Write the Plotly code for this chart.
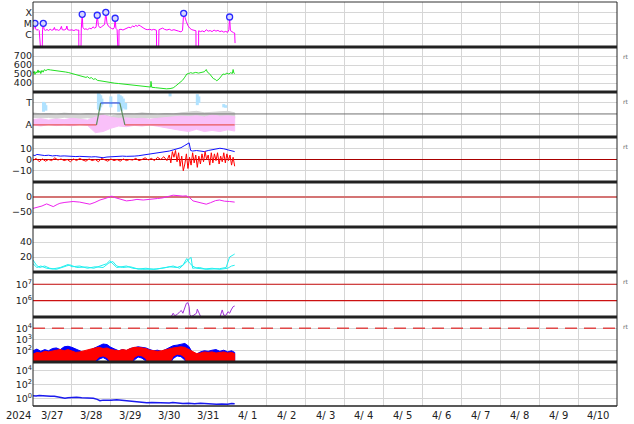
import plotly.graph_objects as go

# ---------------- data (time in days since 2024-03-27 00:00) ----------------
day_ticks = list(range(16))
date_labels = ['3/27', '3/28', '3/29', '3/30', '3/31', '4/ 1', '4/ 2', '4/ 3',
               '4/ 4', '4/ 5', '4/ 6', '4/ 7', '4/ 8', '4/ 9', '4/10']
year_label = '2024'

# panel 1: X-ray flux
xray_t = [0.00, 0.02, 0.05, 0.07, 0.10, 0.13, 0.16, 0.18, 0.23, 0.245, 0.264, 0.285, 0.32, 0.36,
          0.40, 0.44, 0.48, 0.52, 0.55, 0.57, 0.62, 0.66, 0.70, 0.73, 0.75, 0.80, 0.85, 0.87, 0.89,
          0.94, 1.00, 1.05, 1.10, 1.15, 1.175, 1.18, 1.225, 1.24, 1.264, 1.28, 1.32, 1.36, 1.40,
          1.45, 1.50, 1.54, 1.58, 1.62, 1.65, 1.68, 1.72, 1.76, 1.80, 1.84, 1.87, 1.90, 1.94, 1.98,
          2.02, 2.06, 2.09, 2.11, 2.13, 2.16, 2.18, 2.20, 2.21, 2.26, 2.31, 2.36, 2.41, 2.46, 2.51,
          2.56, 2.60, 2.64, 2.68, 2.72, 2.76, 2.80, 2.85, 2.90, 2.95, 3.00, 3.05, 3.10, 3.15, 3.17,
          3.18, 3.22, 3.235, 3.28, 3.33, 3.38, 3.44, 3.50, 3.56, 3.62, 3.68, 3.74, 3.80, 3.84, 3.87,
          3.90, 3.94, 3.98, 4.03, 4.08, 4.13, 4.185, 4.19, 4.25, 4.255, 4.30, 4.35, 4.40, 4.45,
          4.50, 4.55, 4.60, 4.65, 4.70, 4.75, 4.80, 4.85, 4.90, 4.95, 5.00, 5.03, 5.05, 5.07, 5.11,
          5.15, 5.18, 5.19]
xray_flux = [3.0e-6, 4.0e-6, 1.15e-5, 3.5e-6, 2.6e-6, 3.2e-6, 2.5e-6, 1e-9, 1e-9, 3.2e-6, 1.15e-5,
             3.0e-6, 2.6e-6, 3.1e-6, 2.5e-6, 3.3e-6, 2.7e-6, 2.9e-6, 4.8e-6, 2.8e-6, 3.0e-6, 2.6e-6,
             3.2e-6, 6.0e-6, 3.0e-6, 2.8e-6, 3.4e-6, 6.5e-6, 3.0e-6, 2.7e-6, 2.9e-6, 2.5e-6, 3.0e-6,
             2.7e-6, 2.8e-6, 1e-9, 1e-9, 3.5e-6, 7.6e-5, 5.0e-6, 3.2e-6, 3.6e-6, 3.0e-6, 4.0e-6,
             3.6e-6, 5.5e-6, 4.2e-6, 5.0e-6, 6.2e-5, 7.0e-6, 4.5e-6, 5.5e-6, 7.5e-6, 9.0e-6, 1.15e-4,
             1.2e-5, 6.0e-6, 4.5e-6, 3.8e-6, 3.4e-6, 5.0e-6, 3.3e-5, 4.0e-6, 3.0e-6, 1e-9, 1e-9,
             3.0e-6, 3.3e-6, 2.8e-6, 3.5e-6, 4.2e-6, 5.0e-6, 4.5e-6, 6.5e-6, 5.5e-6, 7.5e-6, 6.0e-6,
             8.0e-6, 6.5e-6, 5.0e-6, 4.0e-6, 3.2e-6, 3.0e-6, 3.3e-6, 2.8e-6, 3.2e-6, 2.6e-6, 2.7e-6,
             1e-9, 1e-9, 3.0e-6, 3.6e-6, 4.2e-6, 3.2e-6, 2.8e-6, 3.3e-6, 2.6e-6, 3.0e-6, 2.4e-6,
             2.2e-6, 1.9e-6, 2.5e-6, 9.3e-5, 3.5e-5, 1.6e-5, 7.0e-6, 4.0e-6, 3.0e-6, 2.6e-6, 2.4e-6,
             1e-9, 1e-9, 2.4e-6, 2.0e-6, 2.3e-6, 1.9e-6, 3.0e-6, 2.2e-6, 2.5e-6, 2.0e-6, 2.8e-6,
             2.2e-6, 2.6e-6, 2.0e-6, 2.3e-6, 1.8e-6, 2.1e-6, 1.7e-6, 3.0e-6, 4.3e-5, 2.5e-6, 1.8e-6,
             1.6e-6, 1.5e-6, 1.8e-7]
flare_t = [0.05, 0.264, 1.264, 1.65, 1.87, 2.11, 3.87, 5.05]
flare_flux = [1.15e-5, 1.15e-5, 7.6e-5, 6.2e-5, 1.15e-4, 3.3e-5, 9.3e-5, 4.3e-5]
xray_tickvals = [1e-4, 1e-5, 1e-6]
xray_ticktext = ['X', 'M', 'C']

# panel 2: solar wind speed
speed_t = [0.00, 0.03, 0.05, 0.08, 0.10, 0.13, 0.15, 0.18, 0.20, 0.23, 0.26, 0.29, 0.33, 0.38, 0.45,
           0.52, 0.60, 0.68, 0.76, 0.84, 0.92, 1.00, 1.08, 1.16, 1.24, 1.30, 1.36, 1.40, 1.45, 1.50,
           1.55, 1.60, 1.66, 1.72, 1.80, 1.90, 2.00, 2.10, 2.20, 2.35, 2.50, 2.65, 2.80, 2.95, 3.02,
           3.03, 3.05, 3.15, 3.30, 3.43, 3.52, 3.60, 3.66, 3.72, 3.78, 3.84, 3.90, 3.95, 4.00, 4.05,
           4.10, 4.18, 4.25, 4.32, 4.40, 4.45, 4.48, 4.53, 4.58, 4.63, 4.68, 4.72, 4.78, 4.83, 4.88,
           4.93, 4.98, 5.03, 5.08, 5.12, 5.14, 5.16, 5.18]
speed_v = [505, 530, 495, 525, 510, 545, 515, 535, 505, 540, 520, 548, 538, 550, 545, 542, 540, 537,
           530, 522, 515, 505, 498, 488, 482, 476, 462, 470, 452, 460, 440, 448, 428, 425, 418, 408,
           402, 398, 394, 388, 380, 372, 365, 358, 355, 418, 352, 348, 340, 335, 338, 346, 365, 385,
           405, 430, 465, 500, 505, 515, 508, 518, 510, 520, 525, 550, 520, 505, 475, 450, 440, 425,
           445, 470, 500, 495, 510, 500, 515, 505, 550, 510, 505]
speed_tickvals = [400, 500, 600, 700]

# panel 3: IMF sector (A = away = 0, T = toward = 1)
sector_ticktext = ['A', 'T']
band_t = [0, 0.2, 0.4, 0.6, 0.8, 1.0, 1.2, 1.4, 1.6, 1.8, 2.0, 2.2, 2.4, 2.6, 2.8, 3.0, 3.2, 3.4,
          3.6, 3.8, 4.0, 4.2, 4.4, 4.6, 4.8, 5.0, 5.18]
gray_hi = [0.55, 0.50, 0.52, 0.48, 0.54, 0.50, 0.47, 0.52, 0.50, 0.45, 0.40, 0.48, 0.52, 0.50, 0.55,
           0.50, 0.48, 0.52, 0.50, 0.55, 0.60, 0.62, 0.55, 0.58, 0.60, 0.62, 0.55]
gray_lo = [0.35, 0.32, 0.34, 0.30, 0.35, 0.32, 0.30, 0.33, 0.28, 0.25, 0.30, 0.30, 0.34, 0.32, 0.30,
           0.33, 0.30, 0.28, 0.25, 0.30, 0.28, 0.30, 0.25, 0.28, 0.30, 0.25, 0.30]
pink_hi = [0.25, 0.28, 0.22, 0.27, 0.24, 0.30, 0.26, 0.22, 0.35, 0.45, 0.35, 0.30, 0.32, 0.28, 0.30,
           0.26, 0.30, 0.33, 0.36, 0.40, 0.38, 0.42, 0.36, 0.45, 0.40, 0.42, 0.38]
pink_lo = [0.00, -0.05, 0.02, -0.03, 0.00, -0.04, 0.02, -0.02, -0.35, -0.30, -0.15, -0.05, -0.08,
           -0.02, -0.05, 0.00, -0.06, -0.10, -0.18, -0.25, -0.30, -0.20, -0.30, -0.25, -0.30, -0.22,
           -0.28]
blue_spot_t = [0.27, 0.30, 0.33, 1.68, 1.71, 1.74, 1.77, 2.00, 2.20, 2.24, 2.28, 2.32, 2.38, 3.52,
               4.22, 4.26, 4.90, 4.95]
blue_spot_lo = [0.60, 0.70, 0.65, 0.70, 0.65, 0.80, 0.90, 0.80, 0.60, 0.70, 0.65, 0.75, 0.70, 1.30,
                0.90, 1.00, 0.80, 0.78]
blue_spot_hi = [1.05, 1.00, 0.90, 1.45, 1.40, 1.35, 1.20, 1.30, 1.40, 1.35, 1.30, 1.20, 1.00, 1.45,
                1.40, 1.30, 0.95, 0.90]
sector_away_t = [0, 1.63, None, 2.36, 5.18]
sector_away_v = [0, 0, None, 0, 0]
sector_edge_t = [1.63, 1.74, None, 2.23, 2.36]
sector_edge_v = [0, 1, None, 1, 0]
sector_toward_t = [1.74, 2.23]
sector_toward_v = [1, 1]
sector_mid = 0.5

# panel 4: IMF Bt / Bz
bt_t = [0.0, 0.05, 0.1, 0.2, 0.3, 0.4, 0.5, 0.6, 0.7, 0.8, 0.9, 1.0, 1.1, 1.2, 1.3, 1.4, 1.5, 1.6,
        1.7, 1.8, 1.9, 2.0, 2.1, 2.2, 2.3, 2.4, 2.5, 2.6, 2.7, 2.8, 2.9, 3.0, 3.1, 3.2, 3.3, 3.4,
        3.45, 3.5, 3.6, 3.7, 3.8, 3.9, 3.96, 4.01, 4.05, 4.1, 4.2, 4.3, 4.4, 4.5, 4.6, 4.7, 4.8,
        4.9, 5.0, 5.1, 5.18]
bt_v = [4, 3.5, 4.5, 4, 3.5, 3.8, 3.2, 3.5, 3, 3.2, 2.8, 3, 2.6, 2.8, 2.5, 2.7, 2.3, 2.5, 1.8,
        1.6, 2.2, 2.5, 2.3, 2.8, 3.0, 2.8, 3.2, 3.0, 3.3, 3.8, 4.2, 4.5, 4.8, 5.5, 6, 6.5, 7, 7.5,
        8.5, 9.5, 10.5, 12.5, 13.5, 14.8, 8, 7.5, 8, 7.5, 7, 8, 8.5, 9.5, 10, 9.5, 8.5, 7.5, 7]
bz_t = [0.0, 0.08, 0.16, 0.24, 0.32, 0.4, 0.48, 0.56, 0.64, 0.72, 0.8, 0.88, 0.96, 1.04, 1.12,
        1.2, 1.28, 1.36, 1.44, 1.52, 1.6, 1.68, 1.76, 1.84, 1.92, 2.0, 2.08, 2.16, 2.24, 2.32,
        2.4, 2.48, 2.56, 2.64, 2.72, 2.8, 2.88, 2.96, 3.04, 3.12, 3.2, 3.28, 3.36, 3.44, 3.5,
        3.54, 3.58, 3.62, 3.66, 3.7, 3.74, 3.78, 3.82, 3.86, 3.9, 3.94, 3.98, 4.02, 4.06, 4.1,
        4.14, 4.18, 4.22, 4.26, 4.3, 4.34, 4.38, 4.42, 4.46, 4.5, 4.54, 4.58, 4.62, 4.66, 4.7,
        4.74, 4.78, 4.82, 4.86, 4.9, 4.94, 4.98, 5.02, 5.06, 5.1, 5.14, 5.18]
bz_v = [-1, 1, -2, 0.5, -1.5, 0, -1, 1.5, -0.5, 0.5, -1, 0, -2, 0.5, -1, 1, -0.5, -1.5, 0.5, -1,
        0, -2, 1, -0.5, -1.5, 0.5, -1, 0, -1.5, 0.5, -1, 0, -0.5, 1, -1, 0, 1.5, -0.5, 1, -1, 2,
        0, 2.5, -1, 4, -3, 7, 2, 8, -2, 6, -6, 3, -10, -4, 5, -8, 2, -5, 6, -3, 4, -7, 3, -4, 5,
        -2, 7, 0, 4, -5, 6, -3, 5, -1, 6, -4, 3, -2, 6, -3, 5, -1, 4, -5, 2, -6]
b_tickvals = [-10, 0, 10]
b_ticktext = ['\u221210', '0', '10']

# panel 5: Dst
dst_t = [0, 0.1, 0.23, 0.35, 0.44, 0.52, 0.62, 0.69, 0.82, 1.03, 1.2, 1.33, 1.46, 1.59, 1.72,
         1.85, 1.97, 2.03, 2.08, 2.15, 2.23, 2.32, 2.4, 2.54, 2.67, 2.83, 2.95, 3.08, 3.2, 3.33,
         3.43, 3.51, 3.6, 3.72, 3.85, 3.94, 4.03, 4.11, 4.21, 4.33, 4.45, 4.56, 4.69, 4.79, 4.92,
         5.05, 5.14, 5.18]
dst_v = [-38, -35, -30, -23, -27, -32, -25, -21, -18, -15, -17, -21, -24, -18, -10, -5, 1, 3, -1,
         -4, -6, -9, -13, -11, -8, -10, -9, -8, -5, -3, -1, 3, 6, 4, 3, 4, -3, -13, -16, -19, -24,
         -19, -12, -10, -14, -15, -18, -17]
dst_tickvals = [-50, 0]
dst_ticktext = ['\u221250', '0']

# panel 6: two cyan series
cy1_t = [0, 0.09, 0.17, 0.3, 0.43, 0.6, 0.86, 0.95, 1.12, 1.38, 1.56, 1.72, 1.89, 1.97, 2.06, 2.15,
         2.4, 2.56, 2.82, 3.17, 3.43, 3.6, 3.77, 3.98, 4.06, 4.1, 4.28, 4.45, 4.79, 4.96, 5.05,
         5.14, 5.18]
cy1_v = [16, 9, 6, 8, 5, 3.6, 8, 9.5, 6, 6.7, 5, 8, 11, 15, 11, 6, 8, 5, 3.6, 4, 6, 8, 5, 16, 19.5,
         5, 6, 3.6, 4.4, 6, 20, 22.7, 24]
cy2_t = [0, 0.1, 0.2, 0.35, 0.5, 0.7, 0.9, 1.0, 1.2, 1.4, 1.6, 1.8, 1.95, 2.05, 2.15, 2.3, 2.5,
         2.7, 2.9, 3.1, 3.3, 3.5, 3.7, 3.85, 3.95, 4.02, 4.1, 4.2, 4.4, 4.6, 4.8, 5.0, 5.1, 5.18]
cy2_v = [11, 6, 8, 5, 4, 6, 10, 7, 8, 5, 7, 6, 12, 14, 8, 6, 7, 4, 5, 3.5, 5, 7, 6, 9, 18, 12, 8, 5,
         4, 5, 3.6, 5, 8, 9]
cy_tickvals = [20, 40]

# panel 7: energetic electron flux
el_t = [0.0, 0.03, 1.0, 2.0, 3.0, 3.52, 3.56, 3.6, 3.64, 3.7, 3.77, 3.81, 3.85, 3.9, 3.94, 3.98,
        4.01, 4.03, 4.07, 4.11, 4.16, 4.2, 4.22, 4.26, 4.3, 4.34, 4.78, 4.82, 4.86, 4.9, 4.95,
        5.01, 5.05, 5.09, 5.14, 5.18]
el_v = [1.2e5, 7e4, 6e4, 5.5e4, 6e4, 8e4, 1.3e5, 1.7e5, 1.2e5, 1.4e5, 2.1e5, 2.5e5, 1.7e5, 3.4e5,
        6.9e5, 7.4e5, 4.3e5, 1.3e5, 1.1e5, 1.2e5, 1.5e5, 1.7e5, 3.0e5, 1.7e5, 1.2e5, 7e4, 7e4,
        1.7e5, 2.7e5, 1.3e5, 1.25e5, 2.1e5, 1.7e5, 2.7e5, 4.3e5, 4.7e5]
el_levels = [1e6, 1e7]
el_tickvals = [1e6, 1e7]
el_ticktext = ['10<sup>6</sup>', '10<sup>7</sup>']

# panel 8: particle flux, two channels (upper / lower envelopes of dense data)
p8_t = [0, 0.1, 0.2, 0.3, 0.4, 0.5, 0.6, 0.7, 0.8, 0.9, 1.0, 1.1, 1.2, 1.3, 1.4, 1.5, 1.6, 1.7,
        1.8, 1.9, 2.0, 2.1, 2.2, 2.3, 2.4, 2.5, 2.6, 2.7, 2.8, 2.9, 3.0, 3.1, 3.2, 3.3, 3.4, 3.5,
        3.6, 3.7, 3.8, 3.9, 4.0, 4.1, 4.2, 4.3, 4.4, 4.5, 4.6, 4.7, 4.8, 4.9, 5.0, 5.1, 5.18]
p8_blue_hi = [100, 141, 89, 126, 100, 158, 178, 126, 224, 251, 200, 141, 100, 71, 89, 126, 200,
              282, 398, 355, 200, 141, 100, 126, 100, 158, 200, 224, 200, 178, 126, 100, 112, 89,
              126, 200, 282, 316, 355, 447, 251, 63, 50, 79, 100, 89, 112, 126, 89, 112, 79, 100, 71]
p8_red_hi = [50, 71, 63, 89, 79, 100, 112, 126, 100, 126, 89, 71, 79, 100, 126, 141, 178, 200, 158,
             178, 126, 112, 100, 126, 112, 158, 200, 200, 178, 158, 112, 100, 89, 100, 126, 158,
             178, 200, 224, 200, 126, 79, 56, 63, 79, 71, 79, 63, 71, 79, 63, 71, 56]
p8_lo_t = [0, 1.55, 1.6, 1.7, 1.8, 1.9, 2.0, 2.05, 2.45, 2.5, 2.6, 2.7, 2.8, 2.9, 3.0, 3.45, 3.5,
           3.6, 3.7, 3.8, 3.9, 4.0, 5.18]
p8_red_lo = [3, 3, 13, 28, 35, 25, 10, 3, 3, 8, 25, 40, 35, 20, 3, 3, 10, 32, 50, 45, 25, 3, 3]
p8_blue_lo = [3, 3, 8, 18, 25, 16, 6, 3, 3, 5, 15, 28, 22, 12, 3, 3, 6, 20, 35, 30, 15, 3, 3]
p8_level = 1e4
p8_tickvals = [1e2, 1e3, 1e4]
p8_ticktext = ['10<sup>2</sup>', '10<sup>3</sup>', '10<sup>4</sup>']

# panel 9: decaying flux
p9_t = [0, 0.08, 0.16, 0.25, 0.35, 0.45, 0.55, 0.62, 0.7, 0.82, 0.9, 1.0, 1.12, 1.25, 1.35, 1.46,
        1.55, 1.65, 1.72, 1.8, 1.89, 2.0, 2.15, 2.3, 2.45, 2.57, 2.7, 2.8, 2.92, 3.05, 3.2, 3.35,
        3.5, 3.59, 3.7, 3.85, 4.0, 4.15, 4.3, 4.45, 4.6, 4.71, 4.85, 5.0, 5.1, 5.18]
p9_v = [2.4, 2.1, 2.5, 2.2, 2.3, 1.9, 2.0, 1.6, 1.3, 1.05, 1.2, 1.3, 1.4, 1.2, 1.1, 0.95, 1.0, 0.7,
        0.45, 0.55, 0.6, 0.55, 0.6, 0.5, 0.45, 0.38, 0.35, 0.3, 0.23, 0.26, 0.24, 0.27, 0.22, 0.25,
        0.21, 0.18, 0.2, 0.17, 0.19, 0.16, 0.17, 0.14, 0.16, 0.14, 0.18, 0.17]
p9_tickvals = [1, 1e2, 1e4]
p9_ticktext = ['10<sup>0</sup>', '10<sup>2</sup>', '10<sup>4</sup>']

rt_panels = [2, 3, 4, 7, 8]

# ---------------- layout helpers ----------------
W, H = 634, 424
ML, MR, MT, MB = 33, 17, 2, 18
BOUNDS = [2, 47, 92, 137, 182, 227, 272, 317, 362, 406]
PH = H - MT - MB
X_RANGE = [0, 15]


def fy(py):
    return (H - MB - py) / PH


def ax(i, kind):
    return kind if i == 1 else f'{kind}{i}'


fig = go.Figure()


def add(i, **kw):
    kw.setdefault('hoverinfo', 'skip')
    kw.setdefault('showlegend', False)
    fig.add_trace(go.Scatter(xaxis=ax(i, 'x'), yaxis=ax(i, 'y'), **kw))


def poly(t_hi, hi, t_lo, lo):
    return list(t_hi) + list(t_lo)[::-1], list(hi) + list(lo)[::-1]


# panel 1
add(1, x=xray_t, y=xray_flux, mode='lines', line=dict(color='#ff00ff', width=1))
add(1, x=flare_t, y=flare_flux, mode='markers',
    marker=dict(symbol='circle', size=6, color='#d8d8ff', line=dict(color='#2a2aff', width=1.3)))
# panel 2
add(2, x=speed_t, y=speed_v, mode='lines', line=dict(color='#22e022', width=1))
# panel 3
gx, gy = poly(band_t, gray_hi, band_t, gray_lo)
add(3, x=gx, y=gy, mode='lines', fill='toself', fillcolor='#d4d4d4', line=dict(color='#d4d4d4', width=1))
px_, py_ = poly(band_t, pink_hi, band_t, pink_lo)
add(3, x=px_, y=py_, mode='lines', fill='toself', fillcolor='#f9c0f9', line=dict(color='#f9c0f9', width=1))
bsx, bsy = [], []
for t, lo, hi in zip(blue_spot_t, blue_spot_lo, blue_spot_hi):
    bsx += [t, t, None]
    bsy += [lo, hi, None]
add(3, x=bsx, y=bsy, mode='lines', line=dict(color='#b0e2ff', width=3))
add(3, x=X_RANGE, y=[sector_mid, sector_mid], mode='lines', line=dict(color='#707070', width=1))
add(3, x=sector_away_t, y=sector_away_v, mode='lines', line=dict(color='#e8585a', width=1.2))
add(3, x=sector_edge_t, y=sector_edge_v, mode='lines', line=dict(color='#5c8c5c', width=1.2))
add(3, x=sector_toward_t, y=sector_toward_v, mode='lines', line=dict(color='#3050e0', width=1.2))
# panel 4
add(4, x=X_RANGE, y=[0, 0], mode='lines', line=dict(color='#aa0000', width=1))
add(4, x=bt_t, y=bt_v, mode='lines', line=dict(color='#1010ff', width=1))
add(4, x=bz_t, y=bz_v, mode='lines', line=dict(color='#ff0000', width=1))
# panel 5
add(5, x=X_RANGE, y=[0, 0], mode='lines', line=dict(color='#d47474', width=2.2))
add(5, x=dst_t, y=dst_v, mode='lines', line=dict(color='#ee22ee', width=1))
# panel 6
add(6, x=cy1_t, y=cy1_v, mode='lines', line=dict(color='#22f0f0', width=1))
add(6, x=cy2_t, y=cy2_v, mode='lines', line=dict(color='#22f0f0', width=1))
# panel 7
for lvl in el_levels:
    add(7, x=X_RANGE, y=[lvl, lvl], mode='lines', line=dict(color='#cc1111', width=1.2))
add(7, x=el_t, y=el_v, mode='lines', line=dict(color='#a030d8', width=1))
# panel 8
bx, by = poly(p8_t, p8_blue_hi, p8_lo_t, p8_blue_lo)
add(8, x=bx, y=by, mode='lines', fill='toself', fillcolor='#0000ff', line=dict(color='#0000ff', width=1))
rx, ry = poly(p8_t, p8_red_hi, p8_lo_t, p8_red_lo)
add(8, x=rx, y=ry, mode='lines', fill='toself', fillcolor='#ff0000', line=dict(color='#ff0000', width=1))
add(8, x=X_RANGE, y=[p8_level, p8_level], mode='lines',
    line=dict(color='#e04848', width=1.5, dash='12px,7px'))
# panel 9
add(9, x=p9_t, y=p9_v, mode='lines', line=dict(color='#1a1aee', width=1.5))

# ---------------- axes ----------------
ycfg = {
    1: dict(type='log', range=[-7.1, -3.0], tickvals=xray_tickvals, ticktext=xray_ticktext),
    2: dict(range=[300, 800], tickvals=speed_tickvals),
    3: dict(range=[-0.55, 1.5], tickvals=[0, 1], ticktext=sector_ticktext),
    4: dict(range=[-20, 20], tickvals=b_tickvals, ticktext=b_ticktext),
    5: dict(range=[-100, 50], tickvals=dst_tickvals, ticktext=dst_ticktext),
    6: dict(range=[0, 60], tickvals=cy_tickvals),
    7: dict(type='log', range=[5, 7.75], tickvals=el_tickvals, ticktext=el_ticktext),
    8: dict(type='log', range=[1, 5], tickvals=p8_tickvals, ticktext=p8_ticktext),
    9: dict(type='log', range=[-1.1, 5.2], tickvals=p9_tickvals, ticktext=p9_ticktext),
}
tickfont = dict(family='DejaVu Sans', size=9.5, color='#222222')
layout = dict(width=W, height=H, margin=dict(l=ML, r=MR, t=MT, b=MB, autoexpand=False),
              paper_bgcolor='white', plot_bgcolor='white', showlegend=False,
              font=dict(family='DejaVu Sans', size=10, color='#222222'))
for i in range(1, 10):
    top, bot = BOUNDS[i - 1], BOUNDS[i]
    layout['xaxis' if i == 1 else f'xaxis{i}'] = dict(
        domain=[0, 1], range=X_RANGE, anchor=ax(i, 'y'), tickmode='array', tickvals=day_ticks,
        showticklabels=False, showgrid=True, gridcolor='#d6d6d6', gridwidth=1, zeroline=False,
        ticks='', showline=False, fixedrange=True)
    yc = dict(domain=[fy(bot), fy(top)], anchor=ax(i, 'x'), tickmode='array', showgrid=True,
              gridcolor='#d6d6d6', gridwidth=1, zeroline=False, ticks='', showline=False,
              tickfont=tickfont, fixedrange=True, automargin=False)
    yc.update(ycfg[i])
    layout['yaxis' if i == 1 else f'yaxis{i}'] = yc
fig.update_layout(**layout)

# ---------------- frame and separators ----------------
shapes = []
for b in BOUNDS[1:-1]:
    shapes.append(dict(type='line', xref='paper', yref='paper', x0=0, x1=1, y0=fy(b), y1=fy(b),
                       line=dict(color='#222222', width=3)))
shapes.append(dict(type='line', xref='paper', yref='paper', x0=0, x1=1, y0=fy(BOUNDS[0]), y1=fy(BOUNDS[0]),
                   line=dict(color='#333333', width=1)))
shapes.append(dict(type='line', xref='paper', yref='paper', x0=0, x1=1, y0=fy(BOUNDS[-1]), y1=fy(BOUNDS[-1]),
                   line=dict(color='#222222', width=1.5)))
for xp in (0, 1):
    shapes.append(dict(type='line', xref='paper', yref='paper', x0=xp, x1=xp, y0=0, y1=1,
                       line=dict(color='#222222', width=1)))
fig.update_layout(shapes=shapes)

annotations = []
span = X_RANGE[1] - X_RANGE[0]
for i, lab in enumerate(date_labels):
    annotations.append(dict(xref='x9', yref='paper', x=i + 0.5, y=fy(415), text=lab, showarrow=False,
                            xanchor='center', yanchor='middle', font=dict(size=10, color='#222222')))
# year label sits left of the first day (about 0.37 day before the axis start)
annotations.append(dict(xref='paper', yref='paper', x=-0.37 / span, y=fy(415), text=year_label,
                        showarrow=False, xanchor='center', yanchor='middle',
                        font=dict(size=10, color='#222222')))
for p in rt_panels:
    annotations.append(dict(xref='paper', yref='paper', x=1.006, y=fy(BOUNDS[p - 1] + 9), text='rt',
                            showarrow=False, xanchor='left', yanchor='middle',
                            font=dict(size=6, color='#666666')))
fig.update_layout(annotations=annotations)

fig.write_html('out.html', config={'displayModeBar': False, 'staticPlot': True},
               post_script="document.body.style.margin='0';")
